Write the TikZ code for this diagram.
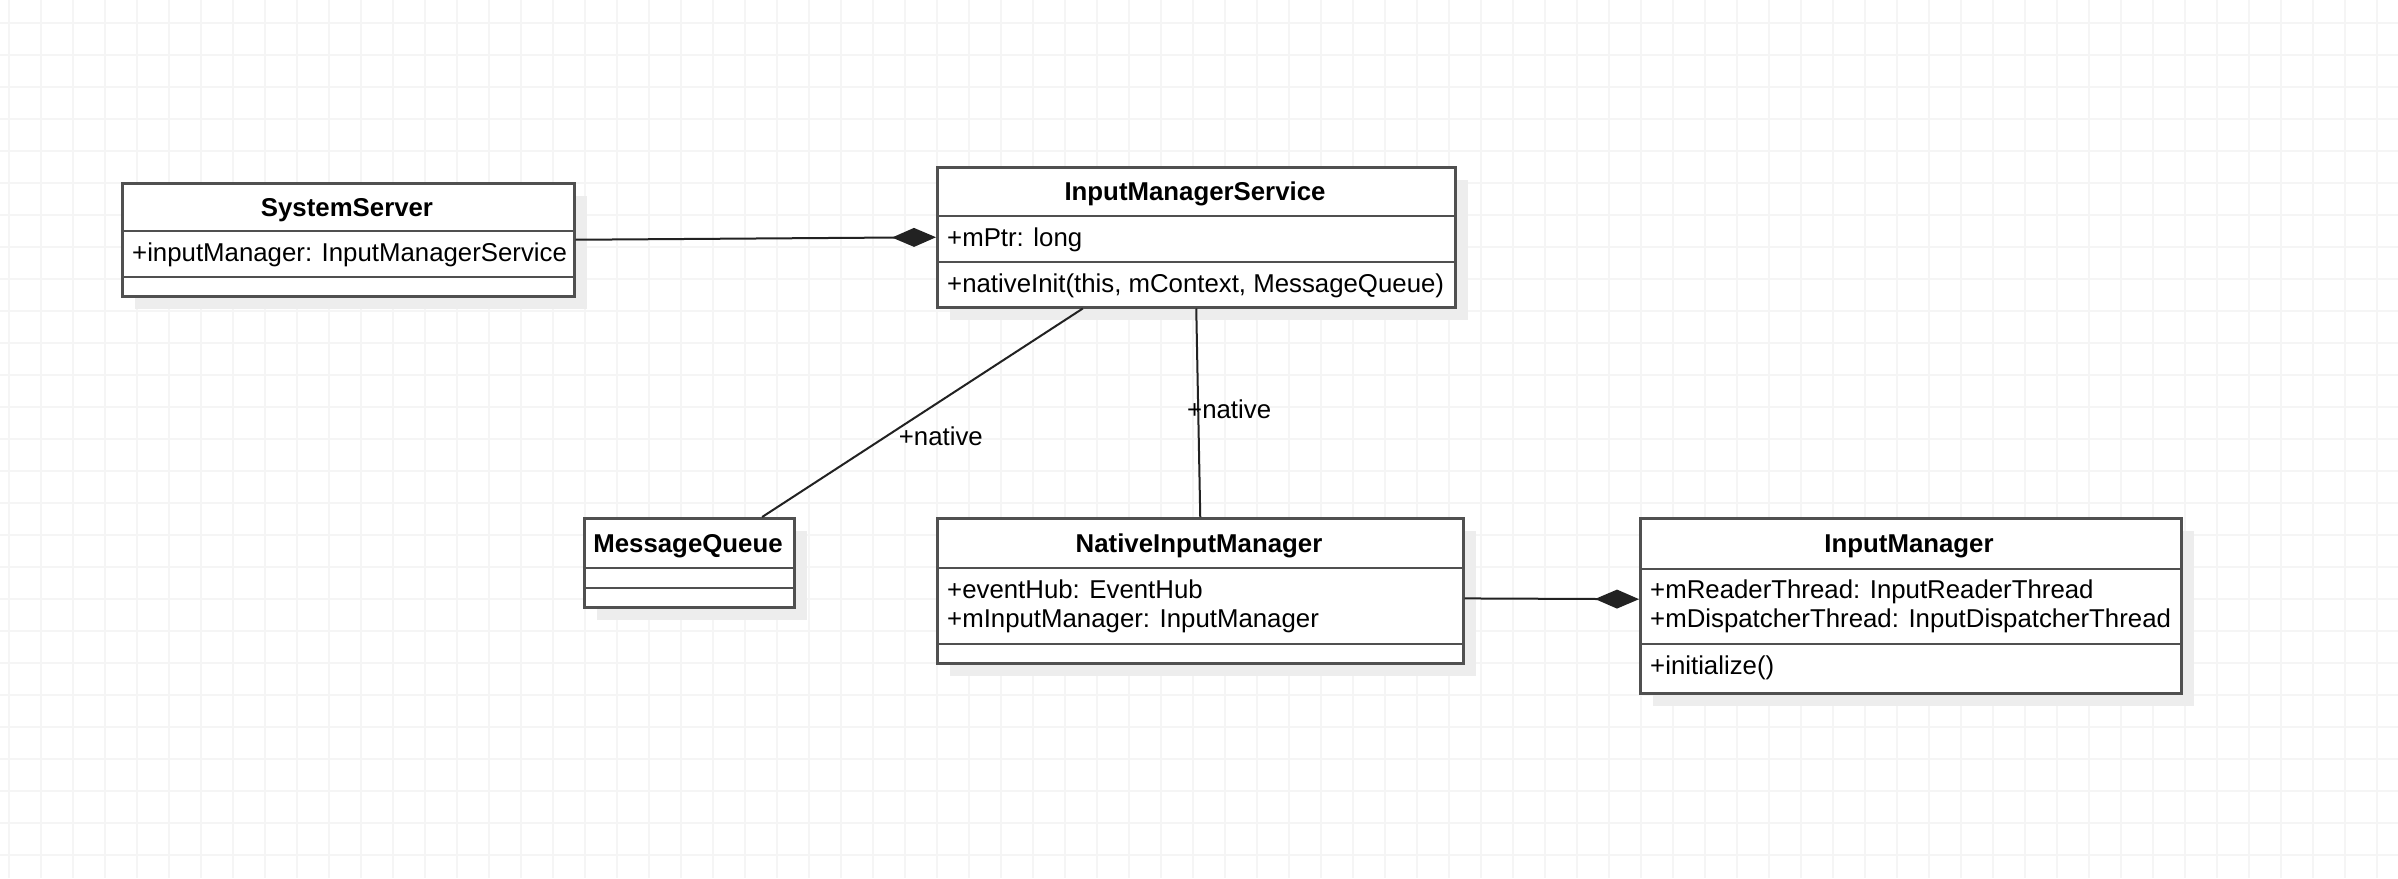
\documentclass[tikz,border=0pt]{standalone}
\usepackage{fontspec}
\setmainfont{Liberation Sans}
\usetikzlibrary{arrows.meta,calc}
\definecolor{gridc}{HTML}{F5F5F5}
\definecolor{shadowc}{HTML}{EDEDED}
\definecolor{borderc}{HTML}{505050}
\definecolor{linec}{HTML}{222222}
\begin{document}
\begin{tikzpicture}[x=1pt,y=-1pt,
  classbox/.style={draw=borderc, line width=2.5pt, fill=white, rectangle, inner sep=0pt, anchor=north west},
  shadowbox/.style={fill=shadowc},
  divider/.style={draw=borderc, line width=2.5pt},
  gridline/.style={draw=gridc, line width=2pt},
  titletext/.style={font=\fontsize{25.8}{31}\selectfont\bfseries, inner sep=0pt, anchor=base, text=black},
  membertext/.style={font=\fontsize{25.8}{31}\selectfont, inner sep=0pt, anchor=base west, text=black},
  conn/.style={draw=linec, line width=2pt},
  comp/.style={conn, -{Diamond[length=44pt,width=19pt]}, fill=black},
  lbl/.style={font=\fontsize{25.8}{31}\selectfont, inner sep=0pt, text=black}
]
\useasboundingbox (0,0) rectangle (2398,878);
\fill[white] (0,0) rectangle (2398,878);
% grid
\foreach \x in {9,41,...,2398} \draw[gridline] (\x,0) -- (\x,878);
\foreach \y in {23,55,...,878} \draw[gridline] (0,\y) -- (2398,\y);

% shadows
\fill[shadowbox] (135,196) rectangle (587,309);
\fill[shadowbox] (950,180) rectangle (1468,320);
\fill[shadowbox] (597,531) rectangle (807,620);
\fill[shadowbox] (950,531) rectangle (1476,676);
\fill[shadowbox] (1653,531) rectangle (2194,706);

% SystemServer
\node[classbox, minimum width=452pt, minimum height=113pt] (ss) at (121,182) {};
\draw[divider] (121,231) -- (573,231);
\draw[divider] (121,277) -- (573,277);
\node[titletext] (sst) at (347,216) {SystemServer};
\node[membertext] (ssa) at (132,261) {+inputManager: InputManagerService};

% InputManagerService
\node[classbox, minimum width=518pt, minimum height=140pt] (ims) at (936,166) {};
\draw[divider] (936,216) -- (1454,216);
\draw[divider] (936,262) -- (1454,262);
\node[titletext] (imst) at (1195,200) {InputManagerService};
\node[membertext] (imsa) at (947,246) {+mPtr: long};
\node[membertext] (imso) at (947,292) {+nativeInit(this, mContext, MessageQueue)};

% MessageQueue
\node[classbox, minimum width=210pt, minimum height=89pt] (mq) at (583,517) {};
\draw[divider] (583,568) -- (793,568);
\draw[divider] (583,588) -- (793,588);
\node[titletext] (mqt) at (688,552) {MessageQueue};

% NativeInputManager
\node[classbox, minimum width=526pt, minimum height=145pt] (nim) at (936,517) {};
\draw[divider] (936,568) -- (1462,568);
\draw[divider] (936,644) -- (1462,644);
\node[titletext] (nimt) at (1199,552) {NativeInputManager};
\node[membertext] (nima) at (947,598) {+eventHub: EventHub};
\node[membertext] (nimb) at (947,627) {+mInputManager: InputManager};

% InputManager
\node[classbox, minimum width=541pt, minimum height=175pt] (im) at (1639,517) {};
\draw[divider] (1639,569) -- (2180,569);
\draw[divider] (1639,644) -- (2180,644);
\node[titletext] (imt) at (1909,552) {InputManager};
\node[membertext] (ima) at (1650,598) {+mReaderThread: InputReaderThread};
\node[membertext] (imb) at (1650,627) {+mDispatcherThread: InputDispatcherThread};
\node[membertext] (imo) at (1650,674) {+initialize()};

% connectors
\draw[comp] (ss.east) -- (ims.west);
\draw[conn] ($(ims.south west)!0.282!(ims.south east)$) -- ($(mq.north west)!0.843!(mq.north east)$)
  node[lbl, pos=0.611, anchor=west, xshift=11pt] (l1) {+native};
\draw[conn] (ims.south) -- (nim.north)
  node[lbl, pos=0.483, anchor=west, xshift=-12pt] (l2) {+native};
\draw[comp] ($(nim.north east)!0.552!(nim.south east)$) -- ($(im.north west)!0.463!(im.south west)$);
\end{tikzpicture}
\end{document}
